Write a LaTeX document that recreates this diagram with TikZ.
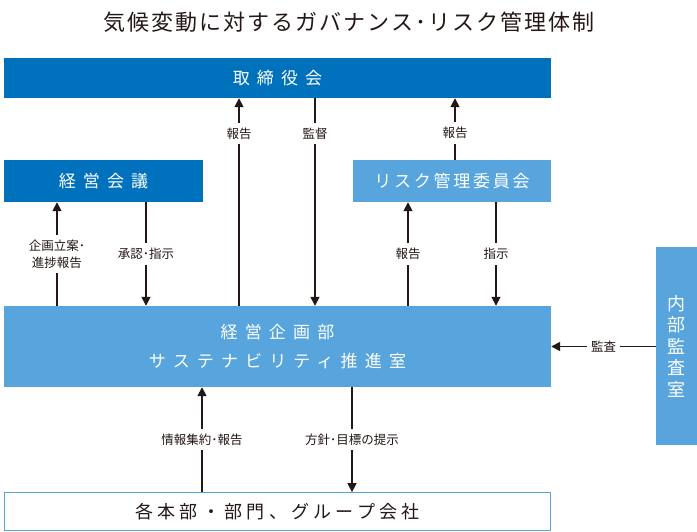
\documentclass[tikz,border=0pt]{standalone}
\usepackage{fontspec}
\setmainfont{Noto Sans CJK JP}
\newfontfamily\widejp[LetterSpace=42]{Noto Sans CJK JP}
\newfontfamily\midjp[LetterSpace=24]{Noto Sans CJK JP}
\newfontfamily\narrowjp[LetterSpace=16]{Noto Sans CJK JP}
\newfontfamily\titlejp[LetterSpace=9]{Noto Sans CJK JP}
\usetikzlibrary{arrows.meta}
\definecolor{boarddark}{HTML}{0071BC}
\definecolor{unitlight}{HTML}{57A5DC}
\definecolor{arrowink}{HTML}{231815}
\tikzset{%
  dark box/.style={
    fill=boarddark,
    text=white,
    inner sep=0pt
  },
  light box/.style={
    fill=unitlight,
    text=white,
    inner sep=0pt
  },
  flow/.style={
    draw=arrowink,
    line width=1.6pt,
    -{Triangle[length=9pt,width=9pt]}
  },
  flow label/.style={
    fill=white,
    text=arrowink,
    font=\fontsize{12.5}{17}\selectfont,
    inner xsep=4pt,
    inner ysep=5pt,
    align=center
  },
}

\begin{document}
\begin{tikzpicture}[x=1pt, y=-1pt]
\useasboundingbox (0,0) rectangle (697,532);

\node [text=arrowink, font=\fontsize{22}{26}\selectfont\titlejp] (title) at (349,22)
  {気候変動に対するガバナンス･リスク管理体制};

\node [dark box, minimum width=547pt, minimum height=40pt,
  font=\fontsize{17}{20}\selectfont\widejp] (board) at (277.5,78) {取締役会};
\node [dark box, minimum width=199pt, minimum height=42pt,
  font=\fontsize{17}{20}\selectfont\widejp] (mtg) at (103.5,181) {経営会議};
\node [light box, minimum width=198pt, minimum height=42pt,
  font=\fontsize{17}{20}\selectfont\narrowjp] (risk) at (452,181) {リスク管理委員会};
\node [light box, minimum width=547pt, minimum height=81pt, align=center,
  font=\fontsize{17}{29}\selectfont\widejp] (plan) at (277.5,346.5)
  {経営企画部\\サステナビリティ推進室};
\node [light box, minimum width=41pt, minimum height=198pt, align=center,
  font=\fontsize{18}{21.5}\selectfont] (audit) at (676.5,346)
  {内\\部\\監\\査\\室};
\node [draw=unitlight, line width=0.8pt, fill=white, text=arrowink, inner sep=0pt,
  minimum width=546pt, minimum height=38pt,
  font=\fontsize{18}{22}\selectfont\midjp] (units) at (277.5,511.5)
  {各本部・部門、グループ会社};

% arrow columns
\foreach \n/\x in {plan/57, order/146, up/239, watch/315, riskup/455, report/408, instr/496, info/202, aim/352}
  \coordinate (col-\n) at (\x,0);

\draw [flow] (plan.north -| col-plan) -- (mtg.south -| col-plan)
  node [flow label, midway] {企画立案･\\進捗報告};
\draw [flow] (mtg.south -| col-order) -- (plan.north -| col-order)
  node [flow label, midway] {承認･指示};

\draw [flow] (plan.north -| col-up) -- (board.south -| col-up)
  node [flow label, pos=0.83] {報告};
\draw [flow] (board.south -| col-watch) -- (plan.north -| col-watch)
  node [flow label, pos=0.17] {監督};
\draw [flow] (risk.north -| col-riskup) -- (board.south -| col-riskup)
  node [flow label, pos=0.44] {報告};

\draw [flow] (plan.north -| col-report) -- (risk.south -| col-report)
  node [flow label, midway] {報告};
\draw [flow] (risk.south -| col-instr) -- (plan.north -| col-instr)
  node [flow label, midway] {指示};

\draw [flow] (audit.west |- plan.east) -- (plan.east)
  node [flow label, midway] {監査};

\draw [flow] (units.north -| col-info) -- (plan.south -| col-info)
  node [flow label, midway] {情報集約･報告};
\draw [flow] (plan.south -| col-aim) -- (units.north -| col-aim)
  node [flow label, midway] {方針･目標の提示};
\end{tikzpicture}
\end{document}
